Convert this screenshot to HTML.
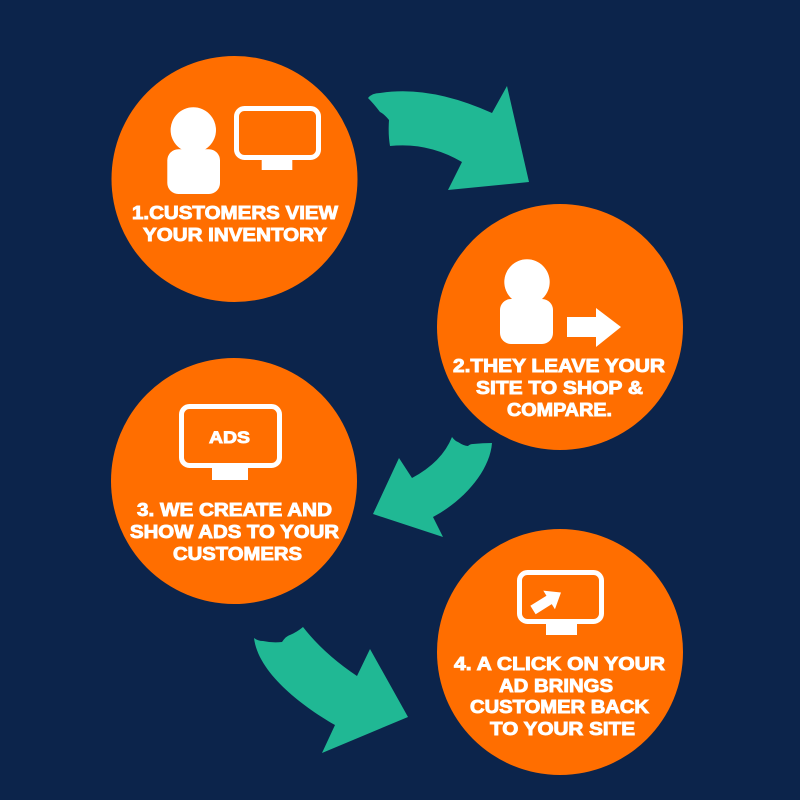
<!DOCTYPE html>
<html>
<head>
<meta charset="utf-8">
<style>
  html,body{margin:0;padding:0;background:#0c244b;}
  svg{display:block;}
  text{font-family:"Liberation Sans",Arial,sans-serif;font-weight:bold;fill:#fff;stroke:#fff;stroke-width:0.9px;}
</style>
</head>
<body>
<svg width="800" height="800" viewBox="0 0 800 800" xmlns="http://www.w3.org/2000/svg">
  <rect x="0" y="0" width="800" height="800" fill="#0c244b"/>

  <!-- Green arrows -->
  <g fill="#20b894">
    <path d="M368,98 Q372,93 380,93 Q430,85 492,113 L507,86 L529,182 L448,190 L462,162 Q428,142 390,146 Q388,135 389,120 Q384,114 380,112 Q374,104 368,98 Z"/>
    <path d="M452,437 Q455,441 458,442 Q464,446 468,446 Q470,444 473,444 Q483,443 492,443 C490,470 465,500 433,517 L443,537 L373,514 L399,458 L412,478 Q442,462 452,437 Z"/>
    <path d="M254,638 Q258,641 263,641 Q272,643 282,642 Q286,636 290,635 Q297,632 303,627 Q324,654 357,676 L370,649 L408,717 L322,753 L335,725 C300,705 258,672 254,638 Z"/>
  </g>

  <!-- Circles -->
  <g fill="#ff6e00">
    <circle cx="234.5" cy="179" r="123"/>
    <circle cx="560" cy="327" r="123"/>
    <circle cx="234" cy="481" r="123"/>
    <circle cx="560" cy="652" r="123"/>
  </g>

  <!-- Circle 1 icons -->
  <g fill="#fff">
    <circle cx="193.3" cy="130" r="22.7"/>
    <rect x="167.3" y="149.3" width="52.7" height="44.7" rx="11" ry="11"/>
    <rect x="261.7" y="157" width="30.6" height="13"/>
  </g>
  <rect x="236.5" y="108.5" width="82" height="49" rx="8" ry="8" fill="none" stroke="#fff" stroke-width="5"/>

  <!-- Circle 2 icons -->
  <g fill="#fff">
    <circle cx="527" cy="282" r="22.7"/>
    <rect x="500" y="299" width="53" height="45" rx="11" ry="11"/>
    <polygon points="567,317 596,317 596,308 621,327 596,347 596,337 567,337"/>
  </g>

  <!-- Circle 3 icon -->
  <rect x="181.5" y="406.5" width="98" height="59" rx="8" ry="8" fill="none" stroke="#fff" stroke-width="5"/>
  <rect x="212" y="465" width="36" height="15" fill="#fff"/>
  <text x="209" y="443" font-size="17" textLength="41" lengthAdjust="spacingAndGlyphs">ADS</text>

  <!-- Circle 4 icon -->
  <rect x="519.5" y="572.5" width="82" height="49" rx="8" ry="8" fill="none" stroke="#fff" stroke-width="5"/>
  <rect x="546" y="621" width="31" height="14" fill="#fff"/>
  <polygon fill="#fff" transform="translate(533,610) rotate(-32)" points="0,-5 19,-5 19,-11 33,0 19,11 19,5 0,5"/>

  <!-- Texts -->
  <g font-size="18">
    <text x="132" y="219" textLength="206" lengthAdjust="spacingAndGlyphs">1.CUSTOMERS VIEW</text>
    <text x="143" y="241" textLength="184" lengthAdjust="spacingAndGlyphs">YOUR INVENTORY</text>

    <text x="453" y="372" textLength="212" lengthAdjust="spacingAndGlyphs">2.THEY LEAVE YOUR</text>
    <text x="476" y="394" textLength="167" lengthAdjust="spacingAndGlyphs">SITE TO SHOP &amp;</text>
    <text x="507" y="416" textLength="105" lengthAdjust="spacingAndGlyphs">COMPARE.</text>

    <text x="137" y="516" textLength="195" lengthAdjust="spacingAndGlyphs">3. WE CREATE AND</text>
    <text x="130" y="538" textLength="209" lengthAdjust="spacingAndGlyphs">SHOW ADS TO YOUR</text>
    <text x="173" y="560" textLength="129" lengthAdjust="spacingAndGlyphs">CUSTOMERS</text>

    <text x="454" y="670" textLength="211" lengthAdjust="spacingAndGlyphs">4. A CLICK ON YOUR</text>
    <text x="499" y="692" textLength="114" lengthAdjust="spacingAndGlyphs">AD BRINGS</text>
    <text x="470" y="713" textLength="179" lengthAdjust="spacingAndGlyphs">CUSTOMER BACK</text>
    <text x="490" y="735" textLength="145" lengthAdjust="spacingAndGlyphs">TO YOUR SITE</text>
  </g>
</svg>
</body>
</html>
